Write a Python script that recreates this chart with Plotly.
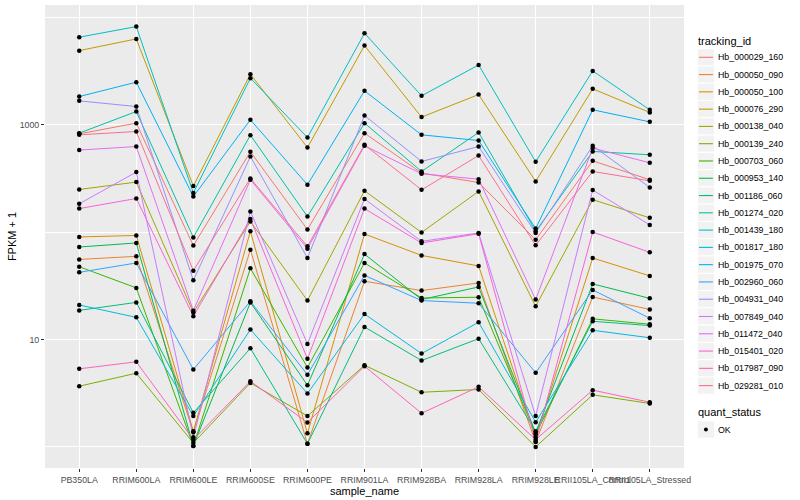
import plotly.graph_objects as go

samples = ["PB350LA", "RRIM600LA", "RRIM600LE", "RRIM600SE", "RRIM600PE", "RRIM901LA",
           "RRIM928BA", "RRIM928LA", "RRIM928LE", "RRII105LA_Control", "RRII105LA_Stressed"]

hb_000029_160 = [824, 1037, 75, 561, 106, 837, 356, 290, 85.1, 462, 308]
hb_000050_090 = [55.8, 59.6, 1.37, 68.7, 1.07, 34.9, 28.6, 33.7, 1.11, 24.9, 19.1]
hb_000050_100 = [90.3, 93.3, 1.40, 102, 1.34, 96.2, 60.8, 48.5, 1.23, 57.5, 39.2]
hb_000076_290 = [4910, 6310, 269, 2963, 615, 5470, 1180, 1914, 297, 2163, 1303]
hb_000138_040 = [250, 293, 17.9, 126, 23.1, 243, 99.5, 240, 20.4, 201, 136]
hb_000139_240 = [3.68, 4.86, 1.09, 3.95, 1.94, 5.77, 3.23, 3.43, 1.0, 3.06, 2.54]
hb_000703_060 = [47.7, 30.3, 1.02, 46.1, 5.49, 51.7, 24.4, 24.8, 1.31, 15.6, 13.9]
hb_000953_140 = [72.8, 79.4, 1.02, 22.2, 3.76, 62.5, 23.6, 30.9, 1.35, 33.0, 24.2]
hb_001186_060 = [18.7, 22.2, 2.08, 8.30, 1.07, 13.1, 6.38, 10.2, 1.40, 14.8, 13.5]
hb_001274_020 = [837, 1330, 89.5, 801, 140, 1037, 368, 849, 102, 565, 526]
hb_001439_180 = [6550, 8220, 232, 2720, 762, 7130, 1862, 3612, 453, 3177, 1380]
hb_001817_180 = [21.0, 16.1, 1.94, 12.4, 3.15, 17.3, 7.41, 14.5, 1.70, 12.2, 10.4]
hb_001975_070 = [1834, 2495, 215, 1113, 277, 2072, 807, 714, 108, 1380, 1066]
hb_002960_060 = [42.3, 51.7, 5.26, 22.7, 4.70, 39.6, 23.1, 21.8, 4.90, 29.0, 15.8]
hb_004931_040 = [1672, 1480, 35.6, 507, 57.5, 1221, 456, 628, 98.4, 638, 261]
hb_007849_040 = [184, 363, 1.23, 156, 9.12, 204, 82.2, 98.4, 1.94, 247, 117]
hb_011472_040 = [582, 628, 18.6, 308, 70.3, 638, 350, 312, 23.6, 607, 443]
hb_015401_020 = [166, 206, 16.5, 133, 6.62, 166, 79.4, 96.8, 1.12, 100.4, 64.9]
hb_017987_090 = [5.34, 6.21, 1.17, 4.09, 1.69, 5.65, 2.06, 3.63, 1.17, 3.38, 2.61]
hb_029281_010 = [807, 867, 43.8, 317, 73.8, 652, 248, 518, 75.4, 368, 301]

tracking_ids = ["Hb_000029_160", "Hb_000050_090", "Hb_000050_100", "Hb_000076_290",
                "Hb_000138_040", "Hb_000139_240", "Hb_000703_060", "Hb_000953_140",
                "Hb_001186_060", "Hb_001274_020", "Hb_001439_180", "Hb_001817_180",
                "Hb_001975_070", "Hb_002960_060", "Hb_004931_040", "Hb_007849_040",
                "Hb_011472_040", "Hb_015401_020", "Hb_017987_090", "Hb_029281_010"]
series = [hb_000029_160, hb_000050_090, hb_000050_100, hb_000076_290, hb_000138_040,
          hb_000139_240, hb_000703_060, hb_000953_140, hb_001186_060, hb_001274_020,
          hb_001439_180, hb_001817_180, hb_001975_070, hb_002960_060, hb_004931_040,
          hb_007849_040, hb_011472_040, hb_015401_020, hb_017987_090, hb_029281_010]
colors = ["#F8766D", "#EA8331", "#D89000", "#C09B00", "#A3A500", "#7CAE00", "#39B600",
          "#00BB4E", "#00BF7D", "#00C1A3", "#00BFC4", "#00BAE0", "#00B0F6", "#35A2FF",
          "#9590FF", "#C77CFF", "#E76BF3", "#FA62DB", "#FF62BC", "#FF6C91"]
status_levels = ["OK"]

FONT = "Liberation Sans, Arial, Helvetica, sans-serif"
W, H = 800, 500
ML, MR, MT, MB = 45, 116, 5, 32
PW, PH = W - ML - MR, H - MT - MB


def px(xpix):
    return (xpix - ML) / PW


def py(ypix):
    return (H - MB - ypix) / PH


fig = go.Figure()
for name, vals, col in zip(tracking_ids, series, colors):
    fig.add_trace(go.Scatter(x=samples, y=vals, mode="lines", name=name,
                             line=dict(color=col, width=1), hoverinfo="skip",
                             showlegend=False))

all_x = [s for vals in series for s in samples]
all_y = [v for vals in series for v in vals]
fig.add_trace(go.Scatter(x=all_x, y=all_y, mode="markers", name=status_levels[0],
                         marker=dict(color="black", size=4.5, symbol="circle"),
                         hoverinfo="skip", showlegend=False))

# ggplot-style legend (keys + labels)
shapes, annotations = [], []
LEG_X = 697.3
KEY = 17.28
TXT_X = 716.7


def legend_title(text, ycen):
    annotations.append(dict(x=px(LEG_X - 1), y=py(ycen), xref="paper", yref="paper",
                            text=text, showarrow=False, xanchor="left", yanchor="middle",
                            font=dict(size=11, color="black", family=FONT)))


def legend_key(ycen):
    shapes.append(dict(type="rect", xref="paper", yref="paper",
                       x0=px(LEG_X), x1=px(LEG_X + KEY),
                       y0=py(ycen - KEY / 2), y1=py(ycen + KEY / 2),
                       fillcolor="#F2F2F2", line=dict(color="white", width=1),
                       layer="above"))


def legend_label(text, ycen):
    annotations.append(dict(x=px(TXT_X - 1), y=py(ycen), xref="paper", yref="paper",
                            text=text, showarrow=False, xanchor="left", yanchor="middle",
                            font=dict(size=8.8, color="black", family=FONT)))


legend_title("tracking_id", 40.7)
for i, (name, col) in enumerate(zip(tracking_ids, colors)):
    yc = 57.3 + i * KEY
    legend_key(yc)
    shapes.append(dict(type="line", xref="paper", yref="paper",
                       x0=px(LEG_X + 1.7), x1=px(LEG_X + KEY - 1.7),
                       y0=py(yc), y1=py(yc), line=dict(color=col, width=1.1),
                       layer="above"))
    legend_label(name, yc)

legend_title("quant_status", 412.3)
for j, lvl in enumerate(status_levels):
    yc = 429.5 + j * KEY
    legend_key(yc)
    shapes.append(dict(type="circle", xref="paper", yref="paper",
                       x0=px(LEG_X + KEY / 2 - 2), x1=px(LEG_X + KEY / 2 + 2),
                       y0=py(yc - 2), y1=py(yc + 2), fillcolor="black",
                       line=dict(color="black", width=0), layer="above"))
    legend_label(lvl, yc)

fig.update_layout(
    width=W, height=H,
    margin=dict(l=ML, r=MR, t=MT, b=MB, autoexpand=False),
    plot_bgcolor="#EBEBEB", paper_bgcolor="white",
    font=dict(family=FONT, size=9, color="#4D4D4D"),
    xaxis=dict(type="category", categoryorder="array", categoryarray=samples,
               range=[-0.6, 10.6], showgrid=True, gridcolor="white", gridwidth=1.1,
               zeroline=False, showline=False, ticks="outside", ticklen=3,
               tickcolor="#333333", tickwidth=1, tickangle=0,
               tickfont=dict(size=8.8, color="#4D4D4D"),
               title=dict(text="sample_name", font=dict(size=11, color="black"), standoff=0),
               automargin=False),
    yaxis=dict(type="log", range=[-0.196, 4.116], tickvals=[10, 1000],
               ticktext=["10", "1000"], showgrid=True, gridcolor="white", gridwidth=1.1,
               minor=dict(tickvals=[1, 100, 10000], showgrid=True, gridcolor="white",
                          gridwidth=0.55, ticks=""),
               zeroline=False, showline=False, ticks="outside", ticklen=3,
               tickcolor="#333333", tickwidth=1,
               tickfont=dict(size=8.8, color="#4D4D4D"),
               title=dict(text="FPKM + 1", font=dict(size=11, color="black"), standoff=0),
               automargin=False),
    shapes=shapes,
    annotations=annotations,
    showlegend=False,
)

fig.write_html("out.html", config={"displayModeBar": False},
               post_script="document.body.style.margin='0px';document.body.style.overflow='hidden';")
